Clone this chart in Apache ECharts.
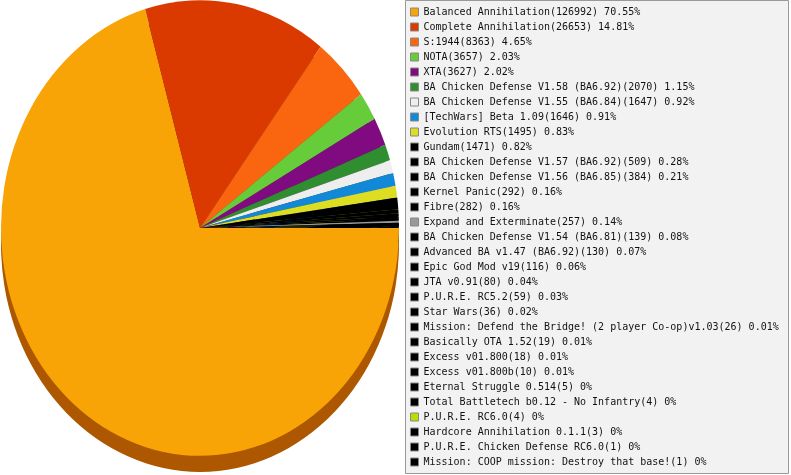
<!DOCTYPE html>
<html>
<head>
<meta charset="utf-8">
<title>Mod usage</title>
<script src="https://cdn.jsdelivr.net/npm/echarts@6/dist/echarts.min.js"></script>
<style>
	html,body{margin:0;padding:0;background:#fff;}
	#wrap{position:relative;width:791px;height:475px;overflow:hidden;}
	#pieChart{position:absolute;left:0;top:-1px;width:400px;height:420px;transform:scaleY(1.145);transform-origin:0 0;}
	#legendChart{position:absolute;left:0;top:0;width:791px;height:475px;}
</style>
</head>
<body>
<div id="wrap">
	<div id="pieChart"></div>
	<div id="legendChart"></div>
</div>
<script>
var gameNames=[
	"Balanced Annihilation",
	"Complete Annihilation",
	"S:1944",
	"NOTA",
	"XTA",
	"BA Chicken Defense V1.58 (BA6.92)",
	"BA Chicken Defense V1.55 (BA6.84)",
	"[TechWars] Beta 1.09",
	"Evolution RTS",
	"Gundam",
	"BA Chicken Defense V1.57 (BA6.92)",
	"BA Chicken Defense V1.56 (BA6.85)",
	"Kernel Panic",
	"Fibre",
	"Expand and Exterminate",
	"BA Chicken Defense V1.54 (BA6.81)",
	"Advanced BA v1.47 (BA6.92)",
	"Epic God Mod v19",
	"JTA v0.91",
	"P.U.R.E. RC5.2",
	"Star Wars",
	"Mission: Defend the Bridge! (2 player Co-op)v1.03",
	"Basically OTA 1.52",
	"Excess v01.800",
	"Excess v01.800b",
	"Eternal Struggle 0.514",
	"Total Battletech b0.12 - No Infantry",
	"P.U.R.E. RC6.0",
	"Hardcore Annihilation 0.1.1",
	"P.U.R.E. Chicken Defense RC6.0",
	"Mission: COOP mission: Destroy that base!"
];
var gamePlays=[126992,26653,8363,3657,3627,2070,1647,1646,1495,1471,509,384,292,282,257,139,130,116,80,59,36,26,19,18,10,5,4,4,3,1,1];
var sliceColors=[
	"#f8a406","#da3a00","#fa6610","#66cc3a","#800a80","#2e8e30","#eeeeee","#1188d8","#dddd22","#000000",
	"#000000","#000000","#000000","#000000","#999999","#000000","#000000","#000000","#000000","#000000",
	"#000000","#000000","#000000","#000000","#000000","#000000","#000000","#bbdd00","#000000","#000000","#000000"
];
var sideColors=["#ad5700","#8a2000","#a83e00","#3d7a20","#4c064c","#1b551c","#8e8e8e","#0a5282","#858514","#000000"];

var total=0;
for(var v of gamePlays){ total+=v; }

function sliceData(colors){
	var arr=[];
	for(var i=0;i<gameNames.length;i++){
		arr.push({name:gameNames[i],value:gamePlays[i],itemStyle:{color:colors[i]||"#000000"}});
	}
	return arr;
}

//饼图 (top surface + side)
var pieChart=echarts.init(document.getElementById('pieChart'),null,{renderer:'svg'});
pieChart.setOption({
	animation:false,
	series:[
		{
			name:'side',
			type:'pie',
			silent:true,
			startAngle:0,
			clockwise:true,
			center:[200,214],
			radius:199,
			itemStyle:{borderWidth:0,borderColor:'transparent'},
			label:{show:false},
			labelLine:{show:false},
			z:1,
			data:sliceData(sideColors)
		},
		{
			name:'top',
			type:'pie',
			silent:true,
			startAngle:0,
			clockwise:true,
			center:[200,200],
			radius:199,
			itemStyle:{borderWidth:0,borderColor:'transparent'},
			label:{show:false},
			labelLine:{show:false},
			z:2,
			data:sliceData(sliceColors)
		}
	]
});

//图例
var legendChart=echarts.init(document.getElementById('legendChart'));
legendChart.setOption({
	animation:false,
	graphic:[{
		type:'rect',
		shape:{x:405.5,y:0.5,width:383,height:473},
		style:{fill:'#f2f2f2',stroke:'#999999',lineWidth:1},
		z:-1
	}],
	legend:{
		orient:'vertical',
		left:410,
		top:4.5,
		padding:0,
		itemGap:0,
		itemWidth:8,
		itemHeight:8,
		icon:'rect',
		selectedMode:false,
		itemStyle:{borderColor:'#888888',borderWidth:1},
		textStyle:{
			fontFamily:'DejaVu Sans Mono',
			fontSize:10,
			lineHeight:15,
			color:'#111'
		},
		formatter:function(name){
			var i=gameNames.indexOf(name);
			var pct=Number((gamePlays[i]/total*100).toFixed(2));
			return name+"("+gamePlays[i]+") "+pct+"%";
		},
		data:gameNames
	},
	series:[{
		type:'pie',
		silent:true,
		center:[-500,-500],
		radius:5,
		label:{show:false},
		data:sliceData(sliceColors)
	}]
});
</script>
</body>
</html>
